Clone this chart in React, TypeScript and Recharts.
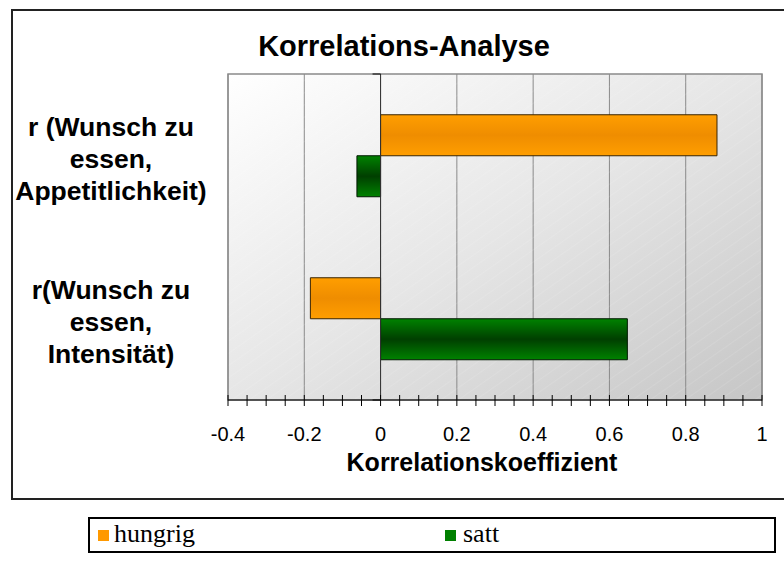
import React from 'react';
import { BarChart, Bar, XAxis, YAxis, CartesianGrid, ReferenceLine, ReferenceArea } from 'recharts';

const categories = ['r (Wunsch zu essen, Appetitlichkeit)', 'r(Wunsch zu essen, Intensität)'];
const categoryLines = [
  ['r (Wunsch zu', 'essen,', 'Appetitlichkeit)'],
  ['r(Wunsch zu', 'essen,', 'Intensität)'],
];
const hungrig = [0.882, -0.184];
const satt = [-0.062, 0.647];
const xTicks = [-0.4, -0.35, -0.3, -0.25, -0.2, -0.15, -0.1, -0.05, 0, 0.05, 0.1, 0.15, 0.2, 0.25, 0.3, 0.35, 0.4, 0.45, 0.5, 0.55, 0.6, 0.65, 0.7, 0.75, 0.8, 0.85, 0.9, 0.95, 1];
const majorTicks = [-0.4, -0.2, 0, 0.2, 0.4, 0.6, 0.8, 1];
const boundaryTicks = [0, 1, 2];
const title = 'Korrelations-Analyse';
const xLabel = 'Korrelationskoeffizient';
const seriesNames = ['hungrig', 'satt'];

const data = categories.map((c, i) => ({ name: c, hungrig: hungrig[i], satt: satt[i] }));

const SANS = '"Liberation Sans", Arial, sans-serif';
const SERIF = '"Liberation Serif", "Times New Roman", serif';

const isMajor = (v: number) => Math.abs(v * 5 - Math.round(v * 5)) < 1e-6;

const XTick = (props: any) => {
  const { x, y, payload } = props;
  const v = Number(payload.value);
  const major = isMajor(v);
  return (
    <g>
      <line x1={x} x2={x} y1={y - 5} y2={y + 6} stroke="#000" strokeWidth={1} />
      {major && (
        <text x={x} y={y + 41} textAnchor="middle" fontFamily={SANS} fontSize={20} fill="#000">
          {String(v)}
        </text>
      )}
    </g>
  );
};

const YTick = (props: any) => {
  const { x, y, payload } = props;
  const idx = categories.indexOf(payload.value);
  const lines = idx >= 0 ? categoryLines[idx] : [String(payload.value)];
  return (
    <g>
      {lines.map((l, i) => (
        <text
          key={i}
          x={x - 117}
          y={y + 12 + (i - 1) * 32}
          textAnchor="middle"
          fontFamily={SANS}
          fontWeight="bold"
          fontSize={26.5}
          fill="#000"
        >
          {l}
        </text>
      ))}
    </g>
  );
};

const gridGen = (p: any) => {
  const scale = p?.xAxis?.scale;
  if (scale) {
    return majorTicks.map((v) => (typeof scale === 'function' ? scale(v) : scale.map(v)));
  }
  return [];
};

export default function App() {
  return (
    <div style={{ position: 'absolute', left: 0, top: 0, width: 784, height: 581, overflow: 'hidden', background: '#fff' }}>
      <div
        style={{
          position: 'absolute',
          left: 11,
          top: 9,
          width: 800,
          height: 491,
          border: '2px solid #222',
          boxSizing: 'border-box',
        }}
      />
      <div style={{ position: 'absolute', left: 0, top: 0 }}>
        <BarChart
          width={784}
          height={581}
          data={data}
          layout="vertical"
          margin={{ top: 74, right: 22, bottom: 101, left: 28 }}
          barCategoryGap="25%"
          barGap={0}
        >
          <defs>
            <linearGradient id="bgGrad" x1="0" y1="0" x2="1" y2="1">
              <stop offset="0" stopColor="#ffffff" />
              <stop offset="0.5" stopColor="#e6e6e6" />
              <stop offset="1" stopColor="#c6c6c6" />
            </linearGradient>
            <pattern id="hatch" patternUnits="userSpaceOnUse" width="10" height="10" patternTransform="rotate(-35)">
              <line x1="0" y1="0" x2="10" y2="0" stroke="#ffffff" strokeWidth="0.6" strokeOpacity="0.35" />
            </pattern>
            <linearGradient id="orangeGrad" x1="0" y1="0" x2="0" y2="1">
              <stop offset="0" stopColor="#ff9e00" />
              <stop offset="0.5" stopColor="#ef8d00" />
              <stop offset="1" stopColor="#ff9e00" />
            </linearGradient>
            <linearGradient id="greenGrad" x1="0" y1="0" x2="0" y2="1">
              <stop offset="0" stopColor="#008200" />
              <stop offset="0.5" stopColor="#003f00" />
              <stop offset="1" stopColor="#008200" />
            </linearGradient>
          </defs>
          <CartesianGrid
            horizontal={false}
            vertical={true}
            fill="url(#bgGrad)"
            fillOpacity={1}
            stroke="#8a8a8a"
            strokeWidth={1}
            verticalCoordinatesGenerator={gridGen}
          />
          <ReferenceArea x1={-0.4} x2={1} fill="url(#hatch)" fillOpacity={1} stroke="none" ifOverflow="visible" zIndex={-60} />
          <XAxis
            type="number"
            dataKey="hungrig"
            domain={[-0.4, 1]}
            ticks={xTicks}
            interval={0}
            allowDataOverflow
            tickLine={false}
            tickSize={0}
            tickMargin={0}
            axisLine={{ stroke: '#000', strokeWidth: 1 }}
            tick={<XTick />}
            height={80}
          />
          <YAxis
            type="category"
            dataKey="name"
            width={200}
            tickLine={false}
            axisLine={false}
            tickSize={0}
            tickMargin={0}
            interval={0}
            tick={<YTick />}
          />
          <YAxis yAxisId="n" type="number" domain={[0, 2]} hide allowDataOverflow />
          <ReferenceArea x1={-0.4} x2={1} fill="none" stroke="#8a8a8a" strokeWidth={1.5} ifOverflow="visible" />
          <Bar dataKey="hungrig" name={seriesNames[0]} fill="url(#orangeGrad)" stroke="#3a2400" strokeWidth={1} isAnimationActive={false} />
          <Bar dataKey="satt" name={seriesNames[1]} fill="url(#greenGrad)" stroke="#001800" strokeWidth={1} isAnimationActive={false} />
          <ReferenceLine x={0} stroke="#333" strokeWidth={1} ifOverflow="visible" />
          {boundaryTicks.map((b) => (
            <ReferenceLine
              key={b}
              yAxisId="n"
              segment={[
                { x: -0.021, y: b },
                { x: 0, y: b },
              ]}
              stroke="#000"
              strokeWidth={1}
              ifOverflow="visible"
            />
          ))}
        </BarChart>
      </div>
      <div
        style={{
          position: 'absolute',
          left: 0,
          width: 808,
          top: 32,
          textAlign: 'center',
          fontFamily: SANS,
          fontWeight: 'bold',
          fontSize: 29,
          lineHeight: '29px',
          color: '#000',
          whiteSpace: 'nowrap',
        }}
      >
        {title}
      </div>
      <div
        style={{
          position: 'absolute',
          left: 0,
          width: 964,
          top: 450,
          textAlign: 'center',
          fontFamily: SANS,
          fontWeight: 'bold',
          fontSize: 25,
          lineHeight: '25px',
          color: '#000',
          whiteSpace: 'nowrap',
        }}
      >
        {xLabel}
      </div>
      <div
        style={{
          position: 'absolute',
          left: 88,
          top: 517,
          width: 688,
          height: 36,
          border: '2px solid #000',
          boxSizing: 'border-box',
          fontFamily: SERIF,
          fontSize: 26,
          color: '#000',
        }}
      >
        <div style={{ position: 'absolute', left: 8, top: 11, width: 11, height: 11, background: '#ff9900' }} />
        <div style={{ position: 'absolute', left: 24, top: 1, lineHeight: '28px' }}>{seriesNames[0]}</div>
        <div style={{ position: 'absolute', left: 355, top: 11, width: 11, height: 11, background: '#008000' }} />
        <div style={{ position: 'absolute', left: 373, top: 1, lineHeight: '28px' }}>{seriesNames[1]}</div>
      </div>
    </div>
  );
}
